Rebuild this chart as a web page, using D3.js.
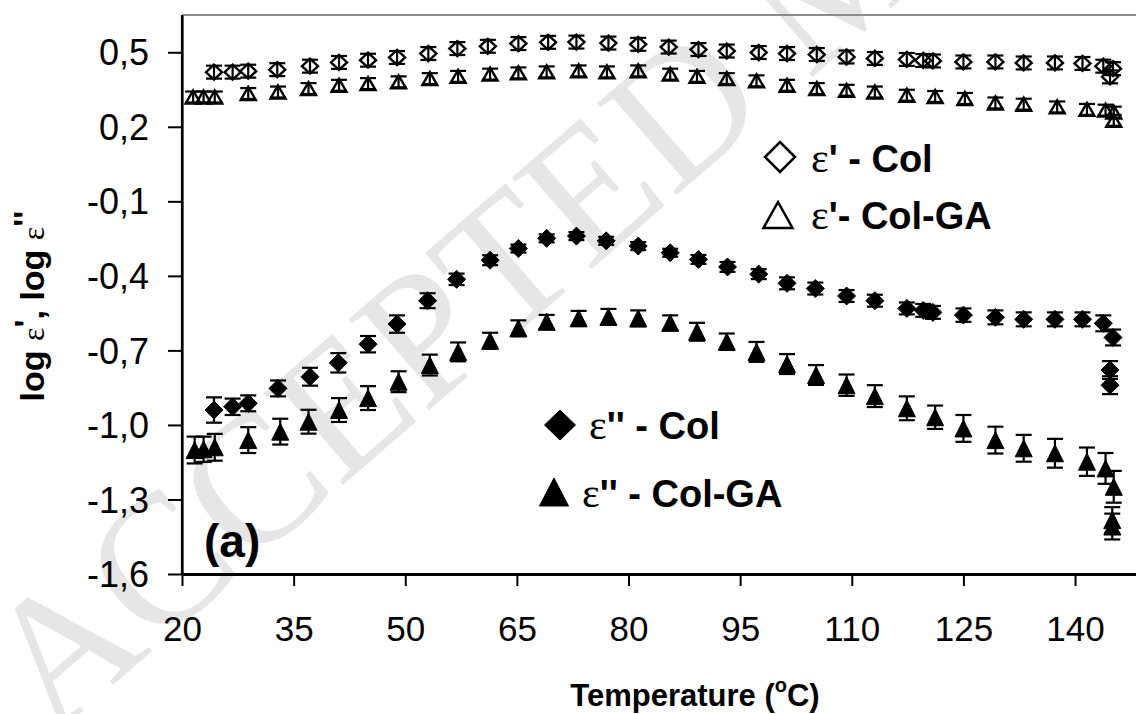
<!DOCTYPE html>
<html>
<head>
<meta charset="utf-8">
<script src="https://cdn.jsdelivr.net/npm/d3@7"></script>
<style>
  html, body { margin: 0; padding: 0; background: #fff; }
  svg { display: block; }
</style>
</head>
<body>
<svg id="chart" width="1136" height="714"></svg>
<script>
// ---------------- data ----------------
// ε' - Col (open diamonds)
const tempPrimeCol = [24.3, 26.8, 28.9, 32.8, 37.2, 41.1, 45.0, 48.9, 53.1, 57.0, 61.1, 65.2, 69.2, 73.0, 77.3, 81.3, 85.4, 89.4, 93.2, 97.5, 101.3, 105.3, 109.3, 113.1, 117.4, 119.6, 120.9, 125.0, 129.3, 133.1, 137.3, 141.0, 143.8, 145.1, 144.7];
const logPrimeCol = [0.420, 0.420, 0.424, 0.430, 0.444, 0.459, 0.468, 0.479, 0.495, 0.515, 0.524, 0.535, 0.540, 0.541, 0.537, 0.532, 0.521, 0.511, 0.505, 0.499, 0.495, 0.491, 0.481, 0.475, 0.471, 0.467, 0.465, 0.461, 0.461, 0.457, 0.457, 0.455, 0.444, 0.434, 0.401];
const errPrimeCol = [0.026, 0.026, 0.026, 0.026, 0.026, 0.026, 0.026, 0.026, 0.026, 0.026, 0.026, 0.026, 0.026, 0.026, 0.026, 0.026, 0.026, 0.026, 0.026, 0.026, 0.026, 0.026, 0.026, 0.026, 0.026, 0.026, 0.026, 0.026, 0.026, 0.026, 0.026, 0.026, 0.026, 0.026, 0.026];

// ε' - Col-GA (open triangles)
const tempPrimeColGA = [21.5, 22.9, 24.4, 28.9, 32.9, 37.0, 41.1, 45.0, 49.1, 53.3, 57.1, 61.4, 65.2, 69.0, 73.3, 77.1, 81.3, 85.6, 89.2, 93.2, 97.2, 101.3, 105.3, 109.3, 113.1, 117.4, 121.2, 125.2, 129.3, 133.1, 137.6, 141.6, 144.1, 145.2, 145.2];
const logPrimeColGA = [0.320, 0.320, 0.320, 0.334, 0.340, 0.354, 0.367, 0.374, 0.381, 0.394, 0.403, 0.412, 0.417, 0.421, 0.425, 0.421, 0.425, 0.412, 0.403, 0.394, 0.385, 0.367, 0.354, 0.347, 0.340, 0.327, 0.322, 0.314, 0.296, 0.291, 0.280, 0.270, 0.267, 0.259, 0.226];
const errPrimeColGA = [0.022, 0.022, 0.022, 0.022, 0.022, 0.022, 0.022, 0.022, 0.022, 0.022, 0.022, 0.022, 0.022, 0.022, 0.022, 0.022, 0.022, 0.022, 0.022, 0.022, 0.022, 0.022, 0.022, 0.022, 0.022, 0.022, 0.022, 0.022, 0.022, 0.022, 0.022, 0.022, 0.022, 0.022, 0.022];

// ε'' - Col (filled diamonds)
const tempLossCol = [24.3, 26.8, 28.9, 32.9, 37.2, 41.0, 45.0, 48.9, 53.0, 56.9, 61.4, 65.2, 69.0, 73.0, 77.0, 81.3, 85.6, 89.4, 93.3, 97.5, 101.3, 105.1, 109.3, 113.1, 117.4, 119.6, 120.9, 125.0, 129.3, 133.1, 137.3, 141.0, 143.8, 145.1, 144.7, 144.7];
const logLossCol = [-0.940, -0.927, -0.913, -0.853, -0.806, -0.750, -0.675, -0.594, -0.500, -0.414, -0.337, -0.290, -0.249, -0.240, -0.259, -0.280, -0.307, -0.334, -0.364, -0.393, -0.430, -0.451, -0.481, -0.500, -0.531, -0.539, -0.547, -0.558, -0.567, -0.575, -0.575, -0.575, -0.591, -0.648, -0.779, -0.840];
const errLossCol = [0.051, 0.033, 0.032, 0.032, 0.036, 0.039, 0.033, 0.035, 0.030, 0.023, 0.020, 0.016, 0.016, 0.016, 0.016, 0.016, 0.016, 0.018, 0.020, 0.020, 0.024, 0.024, 0.024, 0.024, 0.024, 0.026, 0.026, 0.027, 0.028, 0.028, 0.028, 0.028, 0.032, 0.032, 0.036, 0.036];

// ε'' - Col-GA (filled triangles)
const tempLossColGA = [21.7, 22.9, 24.4, 28.9, 33.2, 37.0, 41.1, 45.0, 49.1, 53.3, 57.1, 61.4, 65.2, 69.0, 73.3, 77.3, 81.3, 85.6, 89.2, 93.2, 97.2, 101.3, 105.2, 109.3, 113.1, 117.4, 121.2, 125.0, 129.3, 133.1, 137.3, 141.6, 144.1, 145.2, 145.0, 145.0];
const logLossColGA = [-1.101, -1.098, -1.090, -1.061, -1.027, -0.987, -0.940, -0.892, -0.826, -0.759, -0.706, -0.661, -0.611, -0.585, -0.571, -0.565, -0.571, -0.589, -0.625, -0.665, -0.706, -0.755, -0.799, -0.840, -0.884, -0.933, -0.969, -1.014, -1.061, -1.094, -1.114, -1.148, -1.175, -1.249, -1.383, -1.409];
const errLossColGA = [0.054, 0.051, 0.054, 0.052, 0.052, 0.048, 0.048, 0.048, 0.042, 0.042, 0.038, 0.032, 0.032, 0.028, 0.030, 0.032, 0.032, 0.030, 0.036, 0.033, 0.040, 0.040, 0.040, 0.043, 0.044, 0.048, 0.047, 0.054, 0.054, 0.054, 0.058, 0.057, 0.062, 0.064, 0.052, 0.052];

const xTicks = [20, 35, 50, 65, 80, 95, 110, 125, 140];
const yTicks = [0.5, 0.2, -0.1, -0.4, -0.7, -1.0, -1.3, -1.6];

const legendLabels = ["ε' - Col", "ε'- Col-GA", "ε'' - Col", "ε'' - Col-GA"];
const xTitle = "Temperature (°C)";
const yTitle = "log ε', log ε''";
const panelLabel = "(a)";
const watermark = "ACCEPTED MANUSCRIPT";

// ---------------- chart ----------------
const svg = d3.select("#chart");
const W = 1136, H = 714;
const plotLeft = 182, plotTop = 15, plotBottom = 574;

const x = d3.scaleLinear().domain([20, 150]).range([plotLeft, plotLeft + 130 * 7.442]);
const y = d3.scaleLinear().domain([-1.6, 0.65]).range([plotBottom, plotTop]);

const SANS = "'Liberation Sans', Arial, Helvetica, sans-serif";
const SERIF = "'Liberation Serif', 'Times New Roman', serif";

// watermark
svg.append("text")
  .attr("transform", "translate(52,738) rotate(-41)")
  .attr("font-family", SERIF)
  .attr("font-size", 185)
  .attr("fill", "#e6e6e6")
  .text(watermark);

// plot top border
svg.append("line")
  .attr("x1", plotLeft).attr("x2", W).attr("y1", plotTop).attr("y2", plotTop)
  .attr("stroke", "#8c8c8c").attr("stroke-width", 2);

const fmt = v => (v < 0 ? "-" : "") + Math.abs(v).toFixed(1).replace(".", ",");

// y axis
const yAxis = svg.append("g")
  .attr("transform", `translate(${plotLeft},0)`)
  .call(d3.axisLeft(y).tickValues(yTicks).tickFormat(fmt).tickSizeInner(14).tickSizeOuter(0).tickPadding(19));
yAxis.select(".domain").attr("stroke", "#000").attr("stroke-width", 2.2);
yAxis.selectAll(".tick line").attr("stroke", "#000").attr("stroke-width", 2);
yAxis.selectAll(".tick text")
  .attr("font-family", SANS).attr("font-size", 36).attr("fill", "#000")
  .attr("dy", "0.35em");

// x axis
const xAxis = svg.append("g")
  .attr("transform", `translate(0,${plotBottom})`)
  .call(d3.axisBottom(x).tickValues(xTicks).tickFormat(d3.format("d")).tickSizeInner(12).tickSizeOuter(0).tickPadding(30));
xAxis.select(".domain").attr("stroke", "#000").attr("stroke-width", 3);
xAxis.selectAll(".tick line").attr("stroke", "#000").attr("stroke-width", 2);
xAxis.selectAll(".tick text")
  .attr("font-family", SANS).attr("font-size", 35).attr("fill", "#000");

// left axis spans to top
svg.append("line").attr("x1", plotLeft).attr("x2", plotLeft).attr("y1", plotTop).attr("y2", plotBottom)
  .attr("stroke", "#000").attr("stroke-width", 2.2);

// marker paths
function diamondPath(hw, hh) { return `M0,${-hh}L${hw},0L0,${hh}L${-hw},0Z`; }
function trianglePath(w, h) { return `M0,${-h/2}L${w/2},${h/2}L${-w/2},${h/2}Z`; }

function buildSeries(temps, vals, errs) {
  return temps.map((t, i) => ({ t, v: vals[i], e: errs[i] }));
}

const series = [
  { data: buildSeries(tempPrimeCol, logPrimeCol, errPrimeCol), path: diamondPath(8, 7.5), fill: "none", sw: 2.4 },
  { data: buildSeries(tempPrimeColGA, logPrimeColGA, errPrimeColGA), path: trianglePath(15, 13), fill: "none", sw: 2.4 },
  { data: buildSeries(tempLossCol, logLossCol, errLossCol), path: diamondPath(9, 9), fill: "#000", sw: 1 },
  { data: buildSeries(tempLossColGA, logLossColGA, errLossColGA), path: trianglePath(17, 17), fill: "#000", sw: 1 }
];

const cap = 8;
series.forEach(s => {
  const g = svg.append("g");
  g.selectAll("path.m").data(s.data).enter().append("path")
    .attr("class", "m")
    .attr("d", s.path)
    .attr("transform", d => `translate(${x(d.t)},${y(d.v)})`)
    .attr("fill", s.fill)
    .attr("stroke", "#000")
    .attr("stroke-width", s.sw)
    .attr("stroke-linejoin", "miter");
  const eb = g.selectAll("g.eb").data(s.data).enter().append("g").attr("class", "eb")
    .attr("stroke", "#000").attr("stroke-width", 2.2);
  eb.append("line")
    .attr("x1", d => x(d.t)).attr("x2", d => x(d.t))
    .attr("y1", d => y(d.v + d.e)).attr("y2", d => y(d.v - d.e));
  eb.append("line")
    .attr("x1", d => x(d.t) - cap).attr("x2", d => x(d.t) + cap)
    .attr("y1", d => y(d.v + d.e)).attr("y2", d => y(d.v + d.e));
  eb.append("line")
    .attr("x1", d => x(d.t) - cap).attr("x2", d => x(d.t) + cap)
    .attr("y1", d => y(d.v - d.e)).attr("y2", d => y(d.v - d.e));
});

// legends
const legends = [
  { sym: diamondPath(15, 15), fill: "none", cx: 780, cy: 157, tx: 811, ty: 172, label: legendLabels[0] },
  { sym: trianglePath(29, 26), fill: "none", cx: 778, cy: 215, tx: 811, ty: 229, label: legendLabels[1] },
  { sym: diamondPath(15.5, 15), fill: "#000", cx: 560, cy: 425, tx: 589, ty: 439, label: legendLabels[2] },
  { sym: trianglePath(29, 28), fill: "#000", cx: 554, cy: 492, tx: 582, ty: 507, label: legendLabels[3] }
];
legends.forEach(L => {
  svg.append("path").attr("d", L.sym).attr("transform", `translate(${L.cx},${L.cy})`)
    .attr("fill", L.fill).attr("stroke", "#000").attr("stroke-width", L.fill === "none" ? 2.5 : 1);
  const t = svg.append("text").attr("x", L.tx).attr("y", L.ty)
    .attr("font-family", SANS).attr("font-size", 38).attr("font-weight", "bold");
  t.append("tspan").attr("font-family", SERIF).attr("font-weight", "normal").attr("font-size", 42).text(L.label.charAt(0));
  t.append("tspan").text(L.label.slice(1));
});

// panel label
svg.append("text").attr("x", 204).attr("y", 557)
  .attr("font-family", SANS).attr("font-size", 46).attr("font-weight", "bold")
  .text(panelLabel);

// x title
const xt = svg.append("text").attr("x", 695).attr("y", 706).attr("text-anchor", "middle")
  .attr("font-family", SANS).attr("font-size", 31).attr("font-weight", "bold");
xt.append("tspan").text("Temperature (");
xt.append("tspan").attr("font-size", 20).attr("dy", -14).text("o");
xt.append("tspan").attr("dy", 14).text("C)");

// y title
const yt = svg.append("text").attr("transform", "translate(44,306) rotate(-90)").attr("text-anchor", "middle")
  .attr("font-family", SANS).attr("font-size", 34).attr("font-weight", "bold");
yt.append("tspan").text("log ");
yt.append("tspan").attr("font-family", SERIF).attr("font-weight", "normal").attr("font-size", 32).text("ε");
yt.append("tspan").attr("dy", -6).text("'");
yt.append("tspan").attr("dy", 6).text(", log ");
yt.append("tspan").attr("font-family", SERIF).attr("font-weight", "normal").attr("font-size", 32).text("ε");
yt.append("tspan").attr("dy", -7).text("''");
</script>
</body>
</html>
